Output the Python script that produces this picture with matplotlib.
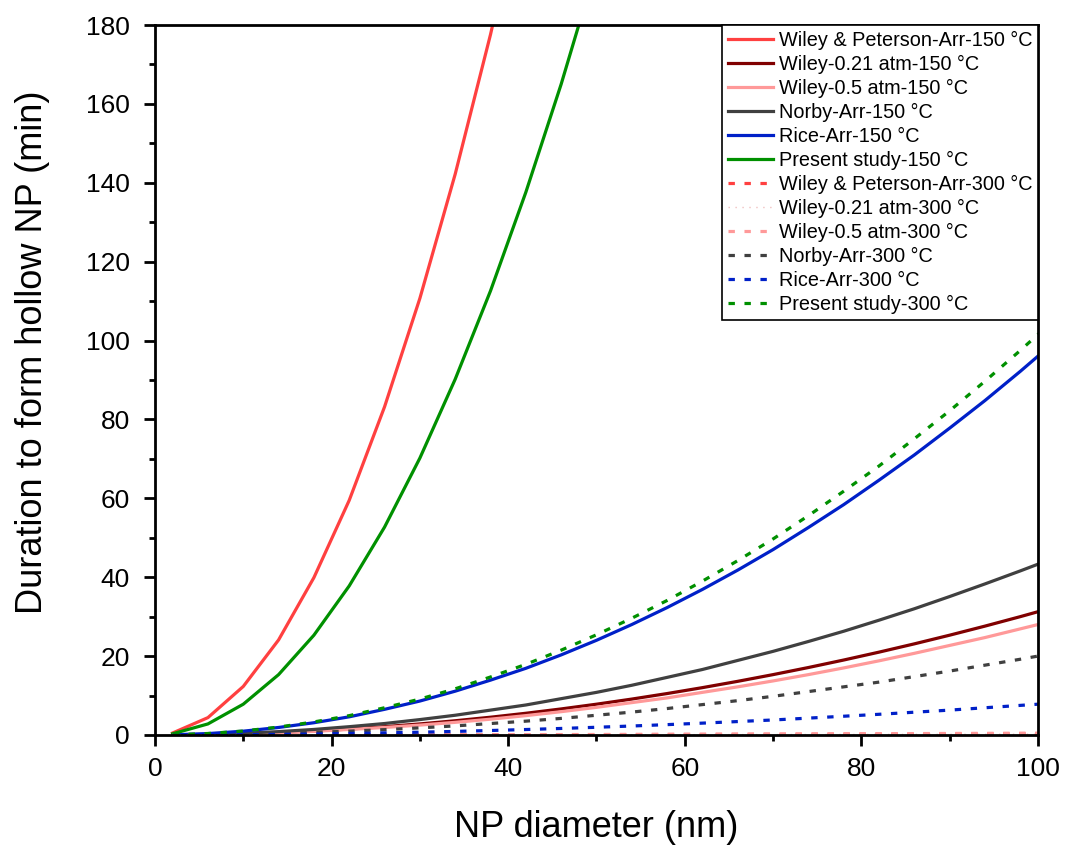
import matplotlib
matplotlib.use("Agg")
import matplotlib.pyplot as plt
from matplotlib.ticker import MultipleLocator

plt.rcParams['font.family'] = ['Liberation Sans', 'DejaVu Sans']

# NP diameter (nm)
diam = [2, 6, 10, 14, 18, 22, 26, 30, 34, 38, 42, 46, 50,
        54, 58, 62, 66, 70, 74, 78, 82, 86, 90, 94, 98, 102]

# 150 °C curves (min)
wp_150 = [0.5, 4.4, 12.3, 24.1, 39.9, 59.5, 83.2, 110.7, 142.2, 177.6, 217.0]
w021_150 = [0.01, 0.11, 0.31, 0.61, 1.0, 1.5, 2.1, 2.8, 3.6, 4.5, 5.5, 6.6, 7.8,
            9.1, 10.5, 12.0, 13.6, 15.3, 17.1, 19.0, 21.0, 23.1, 25.3, 27.6, 30.0, 32.5]
w05_150 = [0.01, 0.10, 0.28, 0.55, 0.91, 1.4, 1.9, 2.5, 3.2, 4.0, 4.9, 5.9, 7.0,
           8.2, 9.4, 10.8, 12.2, 13.7, 15.3, 17.0, 18.8, 20.7, 22.7, 24.7, 26.9, 29.1]
norby_150 = [0.02, 0.16, 0.43, 0.85, 1.4, 2.1, 2.9, 3.9, 5.0, 6.3, 7.6, 9.2, 10.8,
             12.6, 14.6, 16.6, 18.9, 21.2, 23.7, 26.3, 29.1, 32.0, 35.1, 38.3, 41.6, 45.0]
rice_150 = [0.04, 0.35, 0.96, 1.9, 3.1, 4.6, 6.5, 8.6, 11.1, 13.9, 16.9, 20.3, 24.0,
            28.0, 32.3, 36.9, 41.8, 47.0, 52.6, 58.4, 64.6, 71.0, 77.8, 84.8, 92.2, 99.9]
present_150 = [0.3, 2.8, 7.8, 15.3, 25.3, 37.8, 52.7, 70.2, 90.2, 112.6, 137.6, 165.0, 195.0]

# 300 °C curves (min)
wp_300 = [0.0, 0.0, 0.01, 0.01, 0.02, 0.02, 0.03, 0.04, 0.05, 0.06, 0.07, 0.08, 0.09,
          0.10, 0.12, 0.13, 0.15, 0.16, 0.18, 0.20, 0.22, 0.24, 0.26, 0.28, 0.30, 0.32]
w021_300 = [0.0, 0.0, 0.0, 0.01, 0.01, 0.01, 0.02, 0.02, 0.03, 0.03, 0.04, 0.05, 0.05,
            0.06, 0.07, 0.08, 0.09, 0.10, 0.11, 0.12, 0.13, 0.15, 0.16, 0.17, 0.19, 0.20]
w05_300 = [0.0, 0.0, 0.01, 0.01, 0.02, 0.03, 0.04, 0.05, 0.06, 0.07, 0.09, 0.10, 0.12,
           0.14, 0.16, 0.18, 0.21, 0.23, 0.26, 0.29, 0.32, 0.35, 0.38, 0.41, 0.45, 0.48]
norby_300 = [0.01, 0.07, 0.2, 0.39, 0.65, 0.97, 1.35, 1.8, 2.3, 2.9, 3.5, 4.2, 5.0,
             5.8, 6.7, 7.7, 8.7, 9.8, 11.0, 12.2, 13.4, 14.8, 16.2, 17.7, 19.2, 20.8]
rice_300 = [0.0, 0.03, 0.08, 0.15, 0.25, 0.38, 0.53, 0.70, 0.90, 1.13, 1.38, 1.65, 1.95,
            2.27, 2.62, 3.0, 3.4, 3.8, 4.27, 4.75, 5.24, 5.77, 6.3, 6.9, 7.5, 8.1]
present_300 = [0.04, 0.37, 1.0, 2.0, 3.3, 4.9, 6.9, 9.1, 11.7, 14.7, 17.9, 21.5, 25.4,
               29.6, 34.1, 39.0, 44.2, 49.7, 55.6, 61.8, 68.2, 75.1, 82.2, 89.7, 97.5, 105.6]

fig = plt.figure(figsize=(10.68, 8.48), dpi=100)
ax = fig.add_axes([0.1451, 0.1333, 0.8268, 0.8372])

lw = 2.3
dash = (0, (2, 3))
ax.plot(diam[:len(wp_150)], wp_150, color='#FF4040', lw=lw, label='Wiley & Peterson-Arr-150 °C')
ax.plot(diam, w021_150, color='#800000', lw=lw, label='Wiley-0.21 atm-150 °C')
ax.plot(diam, w05_150, color='#FF9999', lw=lw, label='Wiley-0.5 atm-150 °C')
ax.plot(diam, norby_150, color='#404040', lw=lw, label='Norby-Arr-150 °C')
ax.plot(diam, rice_150, color='#0020C8', lw=lw, label='Rice-Arr-150 °C')
ax.plot(diam[:len(present_150)], present_150, color='#009000', lw=lw, label='Present study-150 °C')
ax.plot(diam, wp_300, color='#FF4040', lw=lw, ls=dash, label='Wiley & Peterson-Arr-300 °C')
ax.plot(diam, w021_300, color='#F0C0C0', lw=1.0, ls=(0, (1, 4)), label='Wiley-0.21 atm-300 °C')
ax.plot(diam, w05_300, color='#FF9999', lw=lw, ls=dash, label='Wiley-0.5 atm-300 °C')
ax.plot(diam, norby_300, color='#404040', lw=lw, ls=dash, label='Norby-Arr-300 °C')
ax.plot(diam, rice_300, color='#0020C8', lw=lw, ls=dash, label='Rice-Arr-300 °C')
ax.plot(diam, present_300, color='#009000', lw=lw, ls=dash, label='Present study-300 °C')

ax.set_xlim(0, 100)
ax.set_ylim(0, 180)
ax.xaxis.set_major_locator(MultipleLocator(20))
ax.xaxis.set_minor_locator(MultipleLocator(10))
ax.yaxis.set_major_locator(MultipleLocator(20))
ax.yaxis.set_minor_locator(MultipleLocator(10))
ax.tick_params(which='major', direction='out', length=8, width=2, labelsize=19)
ax.tick_params(which='minor', direction='out', length=4.3, width=2)
ax.tick_params(axis='x', which='major', pad=8)
ax.tick_params(axis='y', which='major', pad=10)
for s in ax.spines.values():
    s.set_linewidth(2)

ax.set_xlabel('NP diameter (nm)', fontsize=26)
ax.set_ylabel('Duration to form hollow NP (min)', fontsize=26)
ax.xaxis.set_label_coords(0.5, -0.105)
ax.yaxis.set_label_coords(-0.119, 0.539)

leg = ax.legend(loc='upper right', bbox_to_anchor=(1, 1), borderaxespad=0, fontsize=14.3,
                fancybox=False, framealpha=1, edgecolor='black', handlelength=2.25,
                labelspacing=0.25, handletextpad=0.3, borderpad=0.3)
leg.get_frame().set_linewidth(1.2)

fig.savefig('out.png', dpi=100)
